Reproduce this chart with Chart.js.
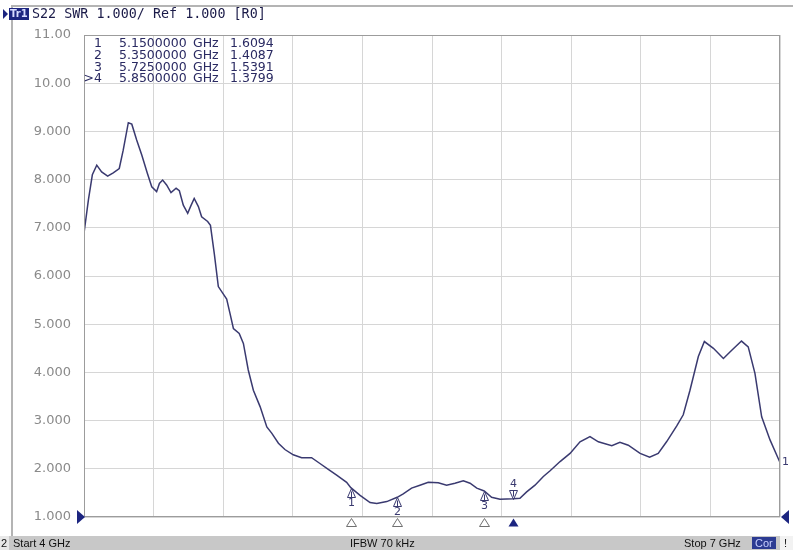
<!DOCTYPE html>
<html>
<head>
<meta charset="utf-8">
<script src="https://cdn.jsdelivr.net/npm/chart.js@4.4.0/dist/chart.umd.min.js"></script>
<style>
html,body{margin:0;padding:0;background:#fff;}
#wrap{width:793px;height:550px;position:relative;}
</style>
</head>
<body>
<div id="wrap"><canvas id="c" width="793" height="550"></canvas></div>
<script>
// ---- data ----
const freqGHz = [4.000,4.019,4.036,4.055,4.076,4.102,4.126,4.152,4.169,4.191,4.206,4.227,4.249,4.273,4.292,4.313,4.325,4.339,4.356,4.375,4.397,4.411,4.428,4.447,4.460,4.475,4.493,4.507,4.533,4.545,4.562,4.579,4.600,4.615,4.629,4.644,4.669,4.687,4.708,4.730,4.759,4.788,4.809,4.838,4.866,4.902,4.938,4.981,5.017,5.053,5.089,5.132,5.150,5.190,5.233,5.262,5.305,5.350,5.376,5.412,5.448,5.484,5.527,5.563,5.599,5.635,5.664,5.693,5.725,5.757,5.793,5.850,5.879,5.908,5.944,5.980,6.009,6.052,6.095,6.138,6.181,6.217,6.275,6.310,6.346,6.397,6.438,6.475,6.511,6.555,6.583,6.612,6.648,6.674,6.713,6.756,6.792,6.834,6.863,6.892,6.921,6.957,7.000];
const swr = [6.89,7.58,8.10,8.30,8.16,8.07,8.14,8.23,8.61,9.18,9.15,8.82,8.51,8.13,7.85,7.75,7.92,7.99,7.89,7.73,7.82,7.77,7.47,7.30,7.45,7.61,7.44,7.23,7.13,7.05,6.45,5.78,5.63,5.52,5.23,4.91,4.81,4.60,4.05,3.63,3.29,2.87,2.74,2.53,2.40,2.29,2.23,2.23,2.11,1.99,1.87,1.72,1.609,1.45,1.30,1.28,1.32,1.409,1.48,1.60,1.66,1.72,1.71,1.66,1.70,1.75,1.70,1.60,1.539,1.41,1.37,1.380,1.39,1.52,1.66,1.84,1.96,2.15,2.32,2.56,2.67,2.56,2.48,2.55,2.49,2.32,2.24,2.32,2.56,2.89,3.12,3.63,4.33,4.64,4.50,4.29,4.46,4.65,4.53,3.98,3.08,2.60,2.13];
const yTickLabels = ['1.000','2.000','3.000','4.000','5.000','6.000','7.000','8.000','9.000','10.00','11.00'];
const markerNames = ['1','2','3','>4'];
const markerFreqGHz = [5.15,5.35,5.725,5.85];
const markerSWR = [1.6094,1.4087,1.5391,1.3799];
const markerFreqText = ['5.1500000','5.3500000','5.7250000','5.8500000'];
const headerText = 'S22 SWR 1.000/ Ref 1.000 [R0]';
const startText = 'Start 4 GHz';
const ifbwText = 'IFBW 70 kHz';
const stopText = 'Stop 7 GHz';

const NAVY = '#1c2580';
const TRACE = '#3a3a70';

const deco = {
  id:'deco',
  beforeDraw(chart){
    const c = chart.ctx;
    c.save();
    c.fillStyle = '#fff';
    c.fillRect(0,0,chart.width,chart.height);
    c.restore();
  },
  afterDraw(chart){
    const c = chart.ctx;
    const a = chart.chartArea;
    const xs = chart.scales.x, ys = chart.scales.y;
    c.save();
    // window frame
    c.strokeStyle = '#b4b4b4';
    c.lineWidth = 2;
    c.beginPath();
    c.moveTo(12, 536); c.lineTo(12, 6); c.lineTo(793, 6);
    c.stroke();
    // plot border
    c.lineWidth = 1;
    c.strokeStyle = '#9c9c9c';
    c.strokeRect(a.left+0.5, a.top+0.5, a.right-a.left-1, a.bottom-a.top-1);

    // header
    c.fillStyle = NAVY;
    c.beginPath(); c.moveTo(3,9); c.lineTo(8,14); c.lineTo(3,19); c.closePath(); c.fill();
    c.fillRect(9,8,20,12);
    c.fillStyle = '#d8dcff';
    c.font = 'bold 10px "DejaVu Sans"';
    c.textBaseline = 'middle';
    c.textAlign = 'left';
    c.fillText('Tr1', 10, 14.5);
    c.fillStyle = '#1a1a48';
    c.font = '13.4px "DejaVu Sans Mono"';
    c.fillText(headerText, 32, 14.5);

    // marker table
    c.fillStyle = '#2a2a62';
    c.font = '12.5px "DejaVu Sans"';
    for (let i=0;i<markerNames.length;i++){
      const y = 44 + i*11.7;
      c.textAlign = 'right';
      c.fillText(markerNames[i], 102, y);
      c.textAlign = 'left';
      c.fillText(markerFreqText[i], 119, y);
      c.fillText('GHz', 193, y);
      c.fillText(markerSWR[i].toFixed(4), 230, y);
    }

    // markers on trace
    c.strokeStyle = TRACE;
    c.fillStyle = TRACE;
    c.lineWidth = 1;
    c.font = '11px "DejaVu Sans"';
    c.textAlign = 'center';
    for (let i=0;i<markerFreqGHz.length;i++){
      const px = Math.round(xs.getPixelForValue(markerFreqGHz[i]))+0.5;
      const py = Math.round(ys.getPixelForValue(markerSWR[i]))+0.5;
      const label = markerNames[i].replace('>','');
      if (i < 3){
        c.beginPath(); c.moveTo(px,py); c.lineTo(px+4,py+9); c.lineTo(px-4,py+9); c.closePath(); c.stroke();
        c.beginPath(); c.moveTo(px,py+3); c.lineTo(px,py+9); c.stroke();
        c.fillText(label, px, py+15);
      } else {
        c.beginPath(); c.moveTo(px,py); c.lineTo(px+4,py-9); c.lineTo(px-4,py-9); c.closePath(); c.stroke();
        c.beginPath(); c.moveTo(px,py-3); c.lineTo(px,py-9); c.stroke();
        c.fillText(label, px, py-15);
      }
    }
    // markers under the axis
    for (let i=0;i<markerFreqGHz.length;i++){
      const px = Math.round(xs.getPixelForValue(markerFreqGHz[i]))+0.5;
      const top = a.bottom + 1.5;
      c.beginPath(); c.moveTo(px,top); c.lineTo(px+5,top+8); c.lineTo(px-5,top+8); c.closePath();
      if (i === 3){ c.fillStyle = NAVY; c.fill(); }
      else { c.strokeStyle = '#707070'; c.stroke(); }
    }
    // reference level triangles
    const ry = ys.getPixelForValue(1);
    c.fillStyle = NAVY;
    c.beginPath(); c.moveTo(a.left+1, ry); c.lineTo(a.left-7, ry-7); c.lineTo(a.left-7, ry+7); c.closePath(); c.fill();
    c.beginPath(); c.moveTo(a.right+1, ry); c.lineTo(a.right+9, ry-7); c.lineTo(a.right+9, ry+7); c.closePath(); c.fill();

    // trace number at end
    c.fillStyle = TRACE;
    c.font = '11px "DejaVu Sans"';
    c.textAlign = 'left';
    c.fillText('1', a.right+2, ys.getPixelForValue(swr[swr.length-1]) );

    // status bar
    c.fillStyle = '#c8c8c8';
    c.fillRect(0, 536, 793, 14);
    c.fillStyle = '#e8e8e8';
    c.fillRect(0, 536, 9, 14);
    c.fillStyle = '#111';
    c.font = '11px "Liberation Sans"';
    c.textAlign = 'left';
    c.fillText('2', 1, 543.5);
    c.fillText(startText, 13, 543.5);
    c.fillText(ifbwText, 350, 543.5);
    c.fillText(stopText, 684, 543.5);
    c.fillStyle = '#2c3b92';
    c.fillRect(752, 537, 24, 12);
    c.fillStyle = '#c9d0ff';
    c.fillText('Cor', 755, 543.5);
    c.fillStyle = '#f2f2f2';
    c.fillRect(780, 536, 13, 14);
    c.fillStyle = '#111';
    c.fillText('!', 784, 543.5);
    c.restore();
  }
};

new Chart(document.getElementById('c'), {
  type:'line',
  data:{
    datasets:[{
      data: freqGHz.map((f,i)=>({x:f, y:swr[i]})),
      borderColor: TRACE,
      borderWidth: 1.5,
      pointRadius: 0,
      tension: 0,
      fill: false
    }]
  },
  options:{
    responsive:false,
    animation:false,
    devicePixelRatio:1,
    layout:{padding:{left:0, top:35, right:13, bottom:33}},
    plugins:{legend:{display:false}, tooltip:{enabled:false}},
    scales:{
      x:{
        type:'linear', min:4, max:7,
        ticks:{stepSize:0.3, display:false},
        grid:{color:'#d6d6d6', drawTicks:false},
        border:{display:false},
        afterFit(s){ s.height = 0; }
      },
      y:{
        type:'linear', min:1, max:11,
        ticks:{stepSize:1, padding:13, color:'#8a8a8a', font:{family:'DejaVu Sans', size:13},
          callback:(v)=>yTickLabels[Math.round(v)-1]},
        grid:{color:'#d6d6d6', drawTicks:false},
        border:{display:false},
        afterFit(s){ s.width = 84; }
      }
    }
  },
  plugins:[deco]
});
</script>
</body>
</html>
